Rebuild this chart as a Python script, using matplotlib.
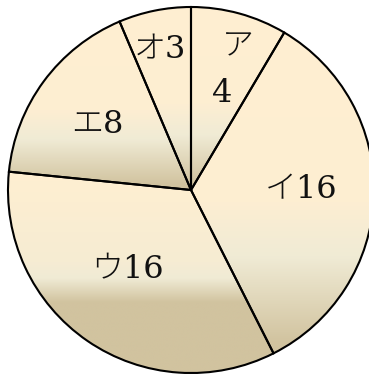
import numpy as np
import matplotlib
matplotlib.use("Agg")
import matplotlib.pyplot as plt
from matplotlib.colors import LinearSegmentedColormap

# ---- data ----
categories = ["ア", "イ", "ウ", "エ", "オ"]
values = [4, 16, 16, 8, 3]

# ---- style / layout ----
W, H, DPI = 369, 379, 100
CX, CY, R = 191, 190, 183          # pie centre / radius in pixels (from top-left)
cream, mid, tan = "#FFEFD1", "#F0EBD5", "#D1C39F"
default_stops = [(0.0, cream), (0.53, "#FDEED2"), (0.70, mid), (0.97, tan), (1.0, tan)]
u_stops = [(0.0, cream), (0.45, "#F6ECD3"), (0.53, mid), (0.65, tan), (1.0, tan)]
stops_per_wedge = [default_stops, default_stops, u_stops, default_stops, default_stops]

# label pixel positions (centre of text, from top-left)
label_pos = {
    "イ": (301, 190),
    "ウ": (127, 270),
    "エ": (97, 124),
    "オ": (160, 50),
}
a_name_pos = (238, 47)
a_val_pos = (222, 93)

fig = plt.figure(figsize=(W / DPI, H / DPI), dpi=DPI)
ax = fig.add_axes([0, 0, 1, 1])

def px2d(px, py):
    return (px - CX) / R, (CY - py) / R

wedges, _ = ax.pie(values, startangle=90, counterclock=False, radius=1.0,
                   wedgeprops=dict(facecolor="none", edgecolor="black",
                                   linewidth=1.5, zorder=3))

for w, stops in zip(wedges, stops_per_wedge):
    t1, t2 = np.deg2rad(w.theta1), np.deg2rad(w.theta2)
    th = np.linspace(t1, t2, 400)
    xs = np.concatenate([[0], np.cos(th)])
    ys = np.concatenate([[0], np.sin(th)])
    cmap = LinearSegmentedColormap.from_list("g", stops)
    grad = np.linspace(0, 1, 512).reshape(-1, 1)
    im = ax.imshow(grad, cmap=cmap, vmin=0, vmax=1, aspect="auto",
                   origin="upper", interpolation="bilinear",
                   extent=[xs.min(), xs.max(), ys.min(), ys.max()], zorder=1)
    poly = plt.Polygon(np.column_stack([xs, ys]), closed=True,
                       transform=ax.transData, facecolor="none", edgecolor="none")
    ax.add_patch(poly)
    im.set_clip_path(poly)

fam = ["DejaVu Serif", "Noto Sans CJK JP"]
fs = 23
tkw = dict(ha="center", va="center", fontsize=fs, family=fam, zorder=5,
           fontweight="light", color="#111111")
for cat, val in zip(categories, values):
    if cat == "ア":
        x, y = px2d(*a_name_pos)
        ax.text(x, y, cat, **tkw)
        x, y = px2d(*a_val_pos)
        ax.text(x, y, str(val), **tkw)
    else:
        x, y = px2d(*label_pos[cat])
        ax.text(x, y, f"{cat}{val}", **tkw)

ax.set_xlim(-CX / R, (W - CX) / R)
ax.set_ylim((CY - H) / R, CY / R)
ax.set_aspect("auto")
ax.axis("off")
fig.savefig("out.png", dpi=DPI, facecolor="white")
